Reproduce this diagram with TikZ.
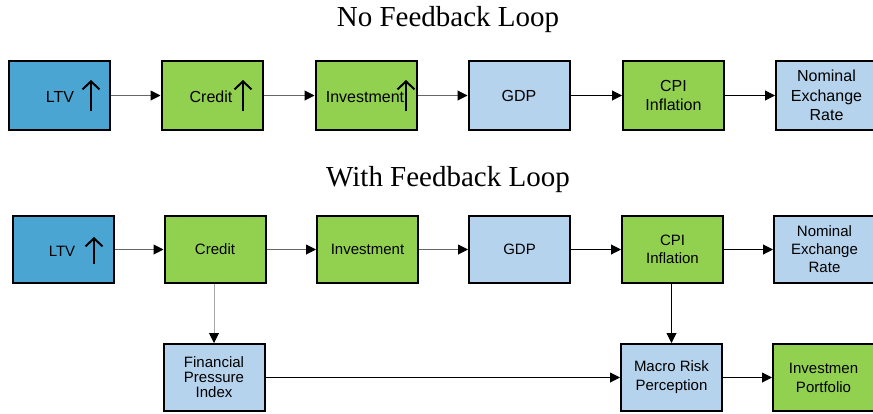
\documentclass[tikz,border=0pt]{standalone}
\usepackage{fontspec}
\setmainfont{Liberation Serif}
\newfontfamily\boxfont{Liberation Sans}
\usetikzlibrary{arrows.meta}
\definecolor{dblue}{RGB}{75,165,210}
\definecolor{lgreen}{RGB}{146,208,80}
\definecolor{lblue}{RGB}{181,211,237}
\begin{document}
\begin{tikzpicture}[x=1pt,y=-1pt,
  box/.style={draw=black,line width=2pt,minimum width=101pt,minimum height=67pt,inner sep=0pt,align=center,font=\boxfont\fontsize{15}{18}\selectfont},
  topbox/.style={box,minimum height=69pt,font=\boxfont\fontsize{16}{19.5}\selectfont},
  tlabel/.style={inner sep=0pt,font=\boxfont\fontsize{16}{19.5}\selectfont},
  blabel/.style={inner sep=0pt,font=\boxfont\fontsize{15}{18}\selectfont},
  uparrow/.style={line width=2pt,-{Straight Barb[length=8pt,width=17pt,line width=2pt]}},
  conn/.style={line width=1pt,draw=black,-{Triangle[length=10pt,width=10pt,color=black]}},
  gconn/.style={conn,draw=black!60},
  lconn/.style={conn,draw=black!35},
  title/.style={anchor=base,inner sep=0pt,font=\fontsize{29}{34}\selectfont}
]
\useasboundingbox (0,0) rectangle (873,413);
% titles
\node[title] (t1) at (448,26) {No Feedback Loop};
\node[title] (t2) at (448,186) {With Feedback Loop};
% top row
\node[topbox,fill=dblue] (a1) at (59.5,95.5) {};
\node[tlabel] (a1t) at (60,97) {LTV};
\coordinate (a1u) at (91,111); \coordinate (a1v) at (91,80);
\draw[uparrow] (a1u) -- (a1v);
\node[topbox,fill=lgreen] (a2) at (212,95.5) {};
\node[tlabel] (a2t) at (211,97) {Credit};
\coordinate (a2u) at (243,111); \coordinate (a2v) at (243,80);
\draw[uparrow] (a2u) -- (a2v);
\node[topbox,fill=lgreen] (a3) at (366,95.5) {};
\node[tlabel] (a3t) at (365,97) {Investment};
\coordinate (a3u) at (406,111); \coordinate (a3v) at (406,80);
\draw[uparrow] (a3u) -- (a3v);
\node[topbox,fill=lblue] (a4) at (519,95.5) {GDP};
\node[topbox,fill=lgreen] (a5) at (673.5,95.5) {CPI\\Inflation};
\node[topbox,fill=lblue] (a6) at (826.5,95.5) {Nominal\\Exchange\\Rate};
\draw[gconn] (a1) -- (a2);
\draw[gconn] (a2) -- (a3);
\draw[gconn] (a3) -- (a4);
\draw[conn] (a4) -- (a5);
\draw[conn] (a5) -- (a6);
% second row
\node[box,fill=dblue] (b1) at (63.5,249.5) {};
\node[blabel] (b1t) at (62,251) {LTV};
\coordinate (b1u) at (94,264); \coordinate (b1v) at (94,237);
\draw[uparrow] (b1u) -- (b1v);
\node[box,fill=lgreen] (b2) at (215,249.5) {Credit};
\node[box,fill=lgreen] (b3) at (367.5,249.5) {Investment};
\node[box,fill=lblue] (b4) at (519.5,249.5) {GDP};
\node[box,fill=lgreen] (b5) at (672.5,249.5) {CPI\\Inflation};
\node[box,fill=lblue] (b6) at (824.5,249.5) {Nominal\\Exchange\\Rate};
\draw[gconn] (b1) -- (b2);
\draw[gconn] (b2) -- (b3);
\draw[gconn] (b3) -- (b4);
\draw[conn] (b4) -- (b5);
\draw[conn] (b5) -- (b6);
% third row
\node[box,fill=lblue,font=\boxfont\fontsize{15}{15}\selectfont] (c1) at (214,377.5) {Financial\\Pressure\\Index};
\node[box,fill=lblue,font=\boxfont\fontsize{15}{19}\selectfont] (c2) at (671.5,377.5) {Macro Risk\\Perception};
\node[box,fill=lgreen,font=\boxfont\fontsize{15}{19}\selectfont] (c3) at (823.5,377.5) {Investmen\\Portfolio};
\draw[lconn] (b2.south -| c1) -- (c1);
\draw[conn] (b5.south -| c2) -- (c2);
\draw[conn] (c1) -- (c2);
\draw[conn] (c2) -- (c3);
\end{tikzpicture}
\end{document}
